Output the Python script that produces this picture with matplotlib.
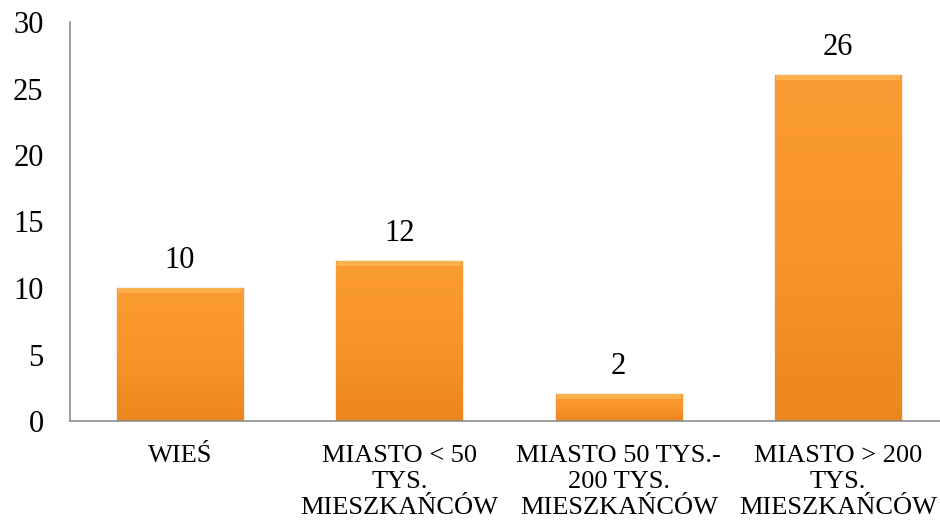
import numpy as np
import matplotlib.pyplot as plt
from matplotlib.colors import LinearSegmentedColormap

# data
categories = ["WIEŚ", "MIASTO < 50\nTYS.\nMIESZKAŃCÓW",
              "MIASTO 50 TYS.-\n200 TYS.\nMIESZKAŃCÓW",
              "MIASTO > 200\nTYS.\nMIESZKAŃCÓW"]
values = [10, 12, 2, 26]
yticks = [0, 5, 10, 15, 20, 25, 30]

plt.rcParams['font.family'] = ['Liberation Serif', 'DejaVu Serif']

fig = plt.figure(figsize=(9.4, 5.24), dpi=100)
ax = fig.add_axes([70 / 940, 103 / 524, 878 / 940, 399 / 524])

x = np.arange(len(values))
bar_w = 0.575
bars = ax.bar(x, values, width=bar_w, color='#F7962A',
              edgecolor='#B8691E', linewidth=0.9, zorder=2)

# vertical gradient + lighter bevel on top of each bar
grad = np.linspace(0, 1, 100).reshape(-1, 1)
cmap = LinearSegmentedColormap.from_list('org', ['#EC861F', '#F7952B', '#FA9C33'])
for b in bars:
    x0, w, h = b.get_x(), b.get_width(), b.get_height()
    im = ax.imshow(grad, extent=[x0, x0 + w, 0, h], aspect='auto',
                   cmap=cmap, origin='lower', zorder=2.1)
    im.set_clip_path(b)
    ax.fill_between([x0 + 0.004, x0 + w - 0.004], h - 0.35, h,
                    color='#FBB04E', zorder=2.2, linewidth=0)
    ax.text(x0 + w / 2, h + 1.0, str(int(h)), ha='center', va='bottom',
            fontsize=22)

ax.set_xlim(-0.5, len(values) - 0.5)
ax.set_ylim(0, 30)
ax.set_yticks(yticks)
ax.set_xticks(x)
ax.set_xticklabels(categories, fontsize=19, linespacing=1.25)
ax.tick_params(axis='y', length=0, labelsize=22, pad=19)
ax.tick_params(axis='x', length=0, pad=17)

for s in ['top', 'right']:
    ax.spines[s].set_visible(False)
ax.spines['left'].set_color('#8C8C8C')
ax.spines['bottom'].set_color('#8C8C8C')
ax.spines['left'].set_linewidth(1.2)
ax.spines['bottom'].set_linewidth(1.2)

fig.savefig('out.png', dpi=100)
